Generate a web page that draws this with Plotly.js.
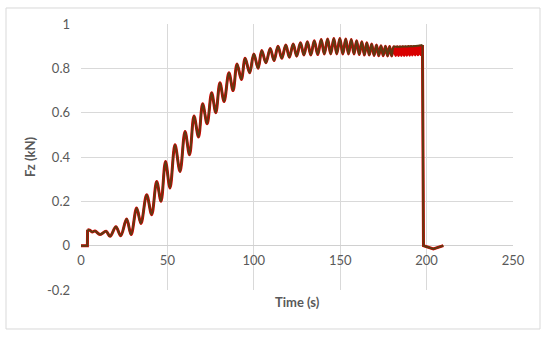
<!DOCTYPE html>
<html>
<head>
<meta charset="utf-8">
<script src="https://cdn.plot.ly/plotly-3.0.1.min.js"></script>
<style>html,body{margin:0;padding:0;background:#fff;}#chart{width:550px;height:339px;}</style>
</head>
<body>
<div id="chart"></div>
<script>
// Time (s) and Fz (kN)
// loading start (step)
var startT = [0, 3.7, 3.8];
var startF = [0, 0, 0.072];
// oscillating loading part (peaks and troughs)
var timeS = [3.8, 5, 6.5, 8.1, 11, 14.5, 16.8, 20.2, 23, 26.4, 29, 32.2, 34.7, 38, 40.9, 43.8, 46.3, 48.9, 51.5, 54.4, 57.3, 60.2, 62.8, 65.4, 68, 70.4, 73, 75.6, 78, 80.4, 82.8, 85.6, 88, 90.3, 92.8, 95, 97.6, 100, 102.5, 104.6, 107, 109.5, 111.7, 114, 116.2, 118.5, 120.6, 122.8, 124.8, 127, 129, 131, 133, 135, 137, 139, 140.8, 142.7, 144.5, 146.3, 148, 149.8, 151.5, 153.2, 154.8, 156.4, 158, 159.5, 161, 162.5, 164, 165.4, 166.8, 168.2, 169.6, 171, 172.3, 173.6, 174.9, 176.2, 177.4, 178.6, 179.8, 181];
var fzKN = [0.072, 0.07, 0.062, 0.066, 0.05, 0.065, 0.042, 0.085, 0.045, 0.12, 0.05, 0.17, 0.10, 0.23, 0.14, 0.29, 0.20, 0.38, 0.26, 0.455, 0.335, 0.515, 0.41, 0.585, 0.49, 0.64, 0.55, 0.69, 0.60, 0.735, 0.65, 0.78, 0.70, 0.82, 0.75, 0.845, 0.78, 0.865, 0.80, 0.88, 0.825, 0.89, 0.835, 0.90, 0.845, 0.905, 0.85, 0.91, 0.855, 0.915, 0.86, 0.92, 0.86, 0.925, 0.862, 0.93, 0.865, 0.932, 0.865, 0.935, 0.865, 0.935, 0.865, 0.932, 0.865, 0.93, 0.865, 0.925, 0.862, 0.92, 0.86, 0.915, 0.86, 0.91, 0.858, 0.905, 0.857, 0.902, 0.857, 0.90, 0.856, 0.898, 0.856, 0.897];
// dense end part of the red series
var redTailT = [182.1, 183, 183.8, 184.6, 185.4, 186.2, 187, 187.8, 188.6, 189.4, 190.2, 191, 191.8, 192.6, 193.4, 194.2, 195, 195.8, 196.6, 197.3, 197.6];
var redTailF = [0.858, 0.897, 0.858, 0.897, 0.858, 0.897, 0.858, 0.897, 0.859, 0.898, 0.859, 0.898, 0.86, 0.899, 0.86, 0.899, 0.861, 0.90, 0.862, 0.90, 0.865];
// the dark series follows the top of the band at the end
var darkTailT = [183, 186, 189, 192, 195, 197.6];
var darkTailF = [0.897, 0.898, 0.899, 0.90, 0.902, 0.905];
// unloading drop and after
var dropT = [197.6, 198.2, 203.9, 209.7];
var dropF = [0.905, 0.0, -0.015, 0.0];

var xTicks = [0, 50, 100, 150, 200, 250];
var xTickText = ['0', '50', '100', '150', '200', '250'];
var yTicks = [-0.2, 0, 0.2, 0.4, 0.6, 0.8, 1];
var yTickText = ['-0.2', '0', '0.2', '0.4', '0.6', '0.8', '1'];

var RED = '#d90000', DARK = '#5e3a12';
var traces = [
  {x: startT, y: startF, mode: 'lines', line: {color: RED, width: 3}, hoverinfo: 'skip'},
  {x: timeS.concat(redTailT), y: fzKN.concat(redTailF), mode: 'lines', line: {color: RED, width: 3, shape: 'spline', smoothing: 1}, hoverinfo: 'skip'},
  {x: dropT, y: dropF, mode: 'lines', line: {color: RED, width: 3}, hoverinfo: 'skip'},
  {x: startT, y: startF, mode: 'lines', line: {color: DARK, width: 2}, hoverinfo: 'skip'},
  {x: timeS.concat(darkTailT), y: fzKN.concat(darkTailF), mode: 'lines', line: {color: DARK, width: 2, shape: 'spline', smoothing: 1}, hoverinfo: 'skip'},
  {x: dropT, y: dropF, mode: 'lines', line: {color: DARK, width: 2}, hoverinfo: 'skip'}
];

var font = 'Lato, "Open Sans", sans-serif';
var yZeroPos = (0 - (-0.2)) / 1.2;
var layout = {
  width: 550, height: 339,
  margin: {l: 81, r: 37, t: 24, b: 49},
  paper_bgcolor: '#ffffff', plot_bgcolor: '#ffffff',
  showlegend: false,
  font: {family: font, size: 13, color: '#595959'},
  xaxis: {
    range: [0, 250], tickvals: xTicks, ticktext: xTickText,
    showgrid: true, gridcolor: '#d9d9d9', gridwidth: 1,
    zeroline: false, showline: false, ticks: '',
    anchor: 'free', position: yZeroPos, ticklabelstandoff: 5,
    tickfont: {family: font, size: 13, color: '#595959'}
  },
  yaxis: {
    range: [-0.2, 1], tickvals: yTicks, ticktext: yTickText,
    showgrid: true, gridcolor: '#d9d9d9', gridwidth: 1,
    zeroline: true, zerolinecolor: '#d0d0d0', zerolinewidth: 1,
    showline: false, ticks: '', ticklabelstandoff: 10,
    tickfont: {family: font, size: 13, color: '#595959'},
    title: {text: '<b>Fz (kN)</b>', font: {family: font, size: 13, color: '#595959'}, standoff: 8}
  },
  annotations: [
    {xref: 'paper', yref: 'paper', x: 0.5, y: -0.045, xanchor: 'center', yanchor: 'middle',
     text: '<b>Time (s)</b>', showarrow: false, font: {family: font, size: 13, color: '#595959'}}
  ],
  shapes: [
    {type: 'rect', xref: 'paper', yref: 'paper', x0: -0.1736, x1: 1.0625, y0: -0.1466, y1: 1.0602,
     line: {color: '#d9d9d9', width: 1}, fillcolor: 'rgba(0,0,0,0)', layer: 'below'}
  ]
};
Plotly.newPlot('chart', traces, layout, {staticPlot: true, displayModeBar: false});
</script>
</body>
</html>
